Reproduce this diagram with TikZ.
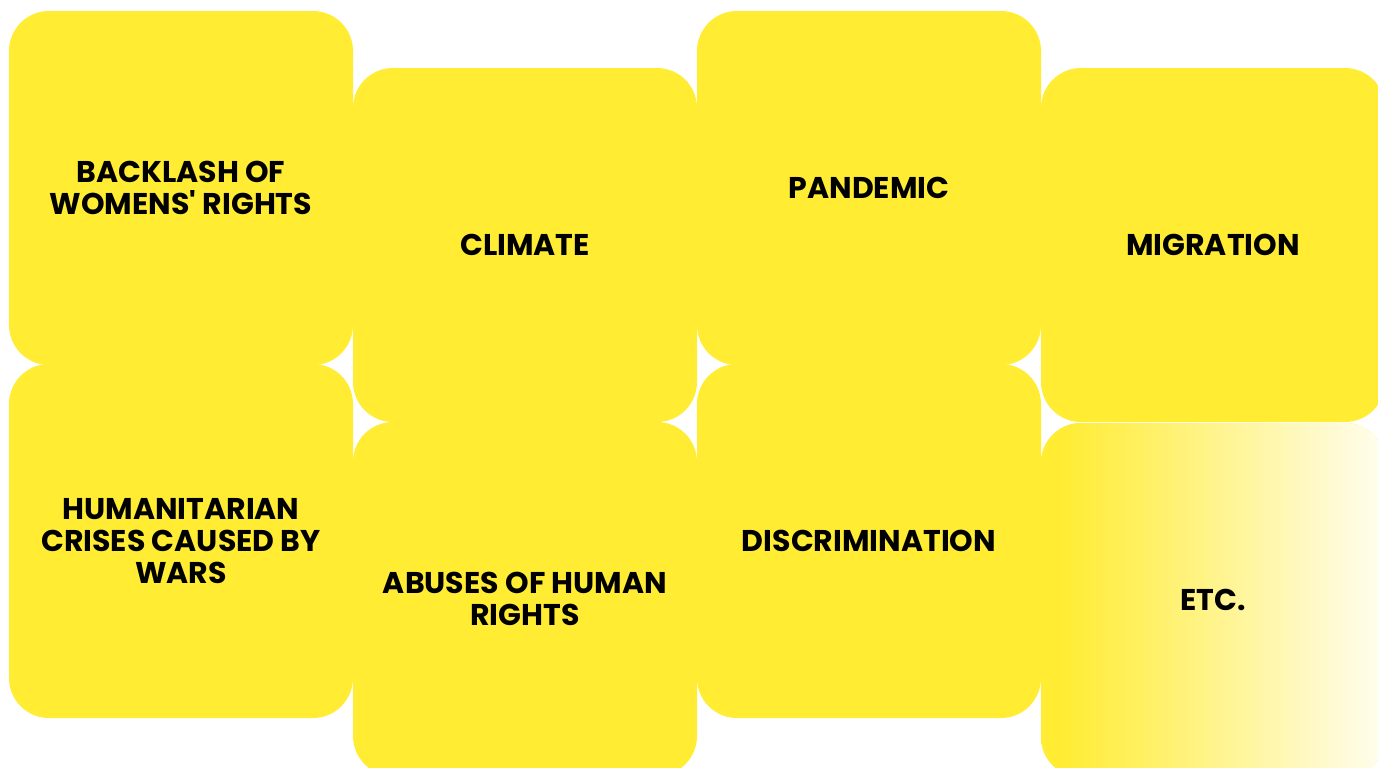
\documentclass[tikz,border=0pt]{standalone}
\usepackage{fontspec}
\setmainfont{Poppins}[Ligatures=TeXOff]
\definecolor{cardyellow}{RGB}{255,236,51}
\definecolor{fadeend}{RGB}{255,253,240}
\pgfdeclarehorizontalshading{etcfade}{100bp}{color(0bp)=(cardyellow); color(28bp)=(cardyellow); color(75bp)=(fadeend); color(100bp)=(fadeend)}
\begin{document}
\begin{tikzpicture}[x=0.5pt,y=-0.5pt,
  card/.style={rounded corners=20pt, fill=cardyellow, minimum width=172pt,
    minimum height=177pt, inner sep=0pt, align=center,
    font=\bfseries\fontsize{15}{16}\selectfont, text=black},
  fadecard/.style={card, shading=etcfade}]
\useasboundingbox (0,0) rectangle (1378,767);
\node[card, text depth=0pt] (backlash) at (181,188) {BACKLASH OF\\WOMENS' RIGHTS};
\node[card] (climate) at (525,245) {CLIMATE};
\node[card] (pandemic) at (869,188) {PANDEMIC};
\node[card] (migration) at (1213,245) {MIGRATION};
\node[card] (humanitarian) at (181,541) {HUMANITARIAN\\CRISES CAUSED BY\\WARS};
\node[card] (abuses) at (525,599) {ABUSES OF HUMAN\\RIGHTS};
\node[card] (discrimination) at (869,541) {DISCRIMINATION};
\node[fadecard] (etc) at (1213,600) {ETC.};
\end{tikzpicture}
\end{document}
